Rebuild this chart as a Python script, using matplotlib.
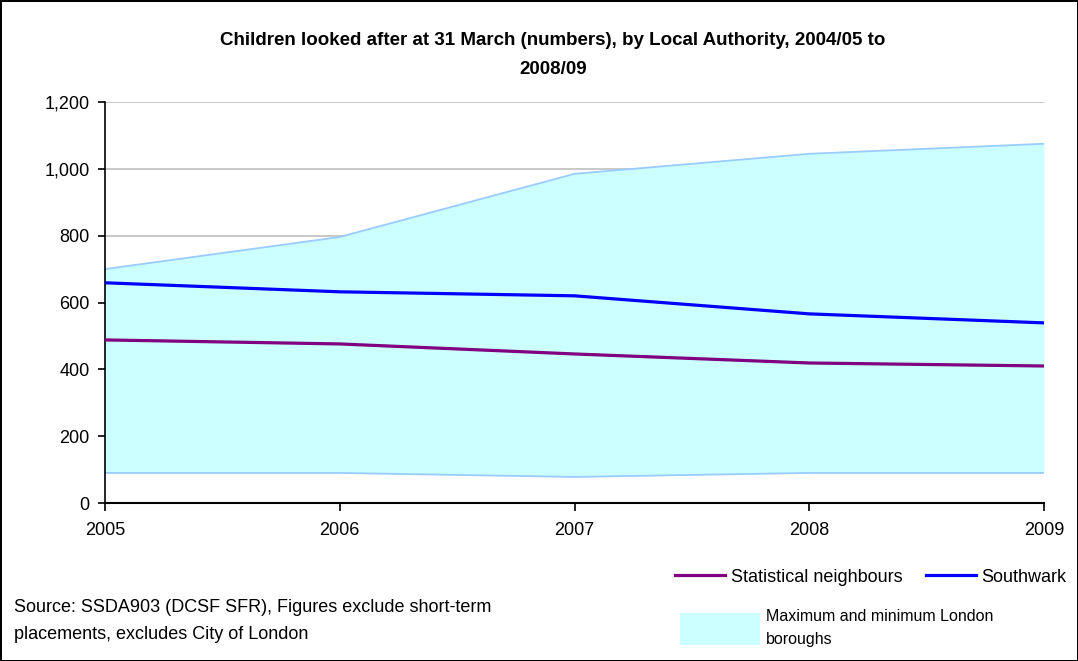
import matplotlib.pyplot as plt
from matplotlib.lines import Line2D
from matplotlib.patches import Patch
from matplotlib.ticker import FuncFormatter

plt.rcParams['font.family'] = ['Liberation Sans', 'DejaVu Sans']

years = ['2005', '2006', '2007', '2008', '2009']
london_max = [700, 796, 985, 1045, 1075]
london_min = [90, 90, 78, 90, 90]
southwark = [659, 632, 620, 566, 539]
stat_neighbours = [488, 476, 446, 419, 410]

fig = plt.figure(figsize=(10.78, 6.61), dpi=100)
ax = fig.add_axes([105 / 1078, 1 - 503 / 661, 939 / 1078, 401 / 661])

x = list(range(len(years)))
ax.fill_between(x, london_min, london_max, color='#CCFFFF', lw=0, zorder=1)
ax.plot(x, london_max, color='#99CCFF', lw=1.3, zorder=2)
ax.plot(x, london_min, color='#99CCFF', lw=1.3, zorder=2)
ax.plot(x, stat_neighbours, color='#800080', lw=2.3, zorder=3)
ax.plot(x, southwark, color='#0000FF', lw=2.3, zorder=3)

ax.set_xlim(0, len(years) - 1)
ax.set_ylim(0, 1200)
ax.set_yticks(range(0, 1201, 200))
ax.yaxis.set_major_formatter(FuncFormatter(lambda v, p: f'{int(v):,}'))
ax.set_xticks(x)
ax.set_xticklabels(years)
ax.grid(axis='y', color='#BFBFBF', lw=1.2, zorder=0)
ax.set_axisbelow(True)
for s in ['top', 'right']:
    ax.spines[s].set_visible(False)
ax.spines['left'].set_linewidth(1.2)
ax.spines['bottom'].set_linewidth(1.5)
ax.tick_params(axis='both', labelsize=13, direction='out', width=1.2)
ax.tick_params(axis='x', length=6, pad=8)
ax.tick_params(axis='y', length=5, pad=6)

fig.text(553 / 1078, 1 - 55 / 661,
         'Children looked after at 31 March (numbers), by Local Authority, 2004/05 to\n2008/09',
         ha='center', va='center', fontsize=13.5, fontweight='bold', linespacing=1.92)

fig.text(14 / 1078, 1 - 621 / 661,
         'Source: SSDA903 (DCSF SFR), Figures exclude short-term\nplacements, excludes City of London',
         ha='left', va='center', fontsize=13, linespacing=1.73)

h1 = [Line2D([], [], color='#800080', lw=2.3), Line2D([], [], color='#0000FF', lw=2.3)]
leg1 = fig.legend(h1, ['Statistical neighbours', 'Southwark'], ncol=2,
                  loc='center right', bbox_to_anchor=(1074 / 1078, 1 - 577 / 661),
                  frameon=False, fontsize=13, handlelength=2.8,
                  handletextpad=0.3, columnspacing=1.3, borderaxespad=0)
h2 = [Patch(facecolor='#CCFFFF', edgecolor='none')]
leg2 = fig.legend(h2, ['Maximum and minimum London\nboroughs'],
                  loc='center left', bbox_to_anchor=(680 / 1078, 1 - 628 / 661),
                  frameon=False, fontsize=11.5, handlelength=5.0, handleheight=2.7,
                  handletextpad=0.4, borderaxespad=0, borderpad=0)
leg2.get_texts()[0].set_linespacing(1.7)

fig.patch.set_edgecolor('black')
fig.patch.set_linewidth(2)

fig.savefig('out.png', dpi=100)
